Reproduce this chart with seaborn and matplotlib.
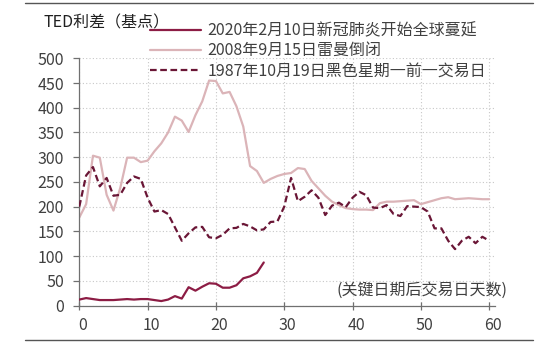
import numpy as np
import pandas as pd
import matplotlib
matplotlib.use("Agg")
import matplotlib.pyplot as plt
import matplotlib.transforms as mtransforms
from matplotlib.lines import Line2D
import seaborn as sns

# ---------------- data ----------------
days_2020 = list(range(0, 28))
ted_2020 = [12, 15, 13, 11, 11, 11, 12, 13, 12, 13, 13, 11, 9, 12, 19, 14,
            37, 30, 38, 45, 44, 36, 36, 41, 55, 59, 66, 87]

days_2008 = list(range(0, 61))
ted_2008 = [178, 205, 303, 299, 224, 192, 238, 299, 299, 290, 293, 312, 328, 350,
            382, 374, 351, 385, 413, 455, 454, 429, 432, 403, 362, 282, 272, 248,
            256, 262, 266, 268, 278, 276, 252, 237, 222, 210, 203, 197, 195, 194,
            194, 193, 207, 210, 210, 211, 212, 213, 205, 209, 213, 217, 219, 215,
            216, 217, 216, 215, 215]

days_1987 = list(range(0, 61))
ted_1987 = [200, 263, 280, 241, 258, 222, 224, 248, 261, 256, 218, 190, 193, 185,
            158, 131, 146, 158, 159, 138, 136, 143, 156, 157, 165, 160, 152, 154,
            169, 170, 200, 258, 211, 220, 233, 218, 183, 202, 208, 199, 218, 230,
            223, 198, 197, 203, 185, 181, 201, 200, 199, 190, 156, 156, 131, 114,
            131, 139, 126, 139, 131]

label_2020 = "2020年2月10日新冠肺炎开始全球蔓延"
label_2008 = "2008年9月15日雷曼倒闭"
label_1987 = "1987年10月19日黑色星期一前一交易日"
y_title = "TED利差（基点）"
x_note = "(关键日期后交易日天数)"
x_ticks = [0, 10, 20, 30, 40, 50, 60]
y_ticks = [0, 50, 100, 150, 200, 250, 300, 350, 400, 450, 500]

# ---------------- style ----------------
sns.set_theme(style="white")
plt.rcParams["font.family"] = ["Noto Sans CJK SC", "DejaVu Sans"]
txt_col = "#404040"

fig = plt.figure(figsize=(5.5, 3.43), dpi=100)
W, H = 550, 343
ax = fig.add_axes([79.3 / W, 1 - 305.5 / H, (495 - 79.3) / W, (305.5 - 58.3) / H])

c2020 = "#8c1c44"
c2008 = "#dbb4b8"
c1987 = "#6a1636"

df08 = pd.DataFrame({"day": days_2008, "ted": ted_2008})
df87 = pd.DataFrame({"day": days_1987, "ted": ted_1987})
df20 = pd.DataFrame({"day": days_2020, "ted": ted_2020})

sns.lineplot(data=df08, x="day", y="ted", ax=ax, color=c2008, lw=1.6, label=label_2008, zorder=2)
sns.lineplot(data=df87, x="day", y="ted", ax=ax, color=c1987, lw=1.6,
             linestyle=(0, (3.0, 1.6)), label=label_1987, zorder=3)
sns.lineplot(data=df20, x="day", y="ted", ax=ax, color=c2020, lw=1.6, label=label_2020, zorder=4)

ax.set_xlim(0, 60.85)
ax.set_ylim(0, 500)
ax.set_xticks(x_ticks)
ax.set_yticks(y_ticks)
ax.set_xlabel("")
ax.set_ylabel("")

ax.grid(True, color="#c8c8c8", lw=0.8, linestyle=(0, (1, 2)))
for s in ["top", "right"]:
    ax.spines[s].set_visible(False)
for s in ["left", "bottom"]:
    ax.spines[s].set_color("#707070")
    ax.spines[s].set_linewidth(0.9)

ax.tick_params(axis="y", left=True, direction="out", length=4, width=0.9,
               color="#707070", labelsize=11.5, labelcolor=txt_col, pad=7)
ax.tick_params(axis="x", bottom=True, direction="inout", length=6, width=0.9,
               color="#707070", labelsize=11.5, labelcolor=txt_col, pad=5)
offset = mtransforms.ScaledTranslation(3.5 / 100, 0, fig.dpi_scale_trans)
for lab in ax.get_xticklabels():
    lab.set_transform(lab.get_transform() + offset)

# legend (order as in reference)
handles, labels = ax.get_legend_handles_labels()
order = [labels.index(label_2020), labels.index(label_2008), labels.index(label_1987)]
leg = ax.legend([handles[i] for i in order], [labels[i] for i in order],
                loc="upper left", bbox_to_anchor=(150 / W, 1 - 22.3 / H),
                bbox_transform=fig.transFigure, frameon=False, fontsize=11.5,
                handlelength=3.2, handletextpad=0.4, labelspacing=0.19,
                borderpad=0, borderaxespad=0)
for t in leg.get_texts():
    t.set_color(txt_col)

fig.text(43 / W, 1 - 23 / H, y_title, ha="left", va="center", fontsize=11.5, color="#202020")
ax.text(508 / W, 1 - 290 / H, x_note, transform=fig.transFigure, ha="right", va="center",
        fontsize=11.5, color=txt_col)

# decorative rules top and bottom
for yy in [3.3, 340]:
    fig.add_artist(Line2D([25 / W, 533 / W], [1 - yy / H, 1 - yy / H],
                          color="#555555", lw=1.0, transform=fig.transFigure))

fig.savefig("out.png", dpi=100)
